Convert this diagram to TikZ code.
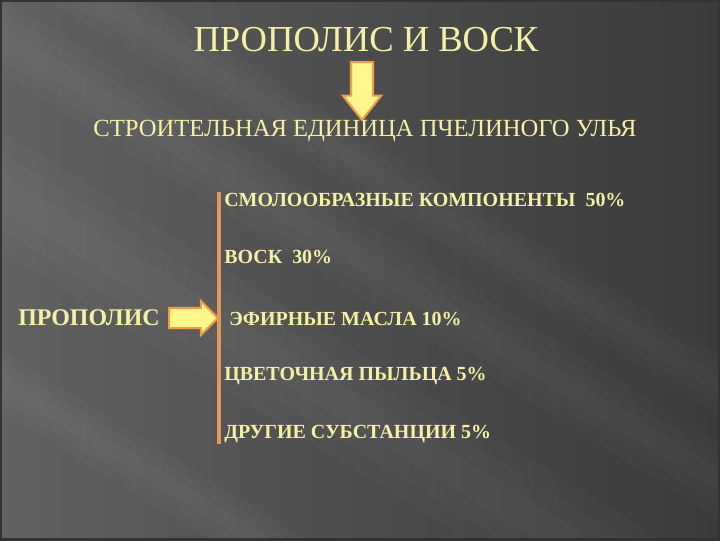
\documentclass[tikz,border=0pt]{standalone}
\usepackage{fontspec}
\setmainfont{Liberation Serif}
\usetikzlibrary{shapes.arrows,fadings}
\definecolor{txtyel}{HTML}{F4F1A6}
\definecolor{arrfill}{HTML}{FFF78C}
\definecolor{arrdraw}{HTML}{EE9E48}
\definecolor{brline}{HTML}{E19A55}
\definecolor{bgdark}{HTML}{454545}
\definecolor{bglight}{HTML}{626262}
\newcommand{\streak}[2]{% diagonal light band, y at x=0 and half width
  \foreach \w in {1,0.65,0.3}
    \fill[white, opacity=0.018] (-50,#1-31-\w*#2) -- (770,#1+477-\w*#2) -- (770,#1+477+\w*#2) -- (-50,#1-31+\w*#2) -- cycle;}
\begin{document}
\begin{tikzpicture}[x=0.025cm, y=-0.025cm,
  item/.style={anchor=west, inner sep=0pt, text=txtyel, font=\fontsize{14.2}{16}\selectfont\bfseries},
  blockarrow/.style={single arrow, draw=arrdraw, fill=arrfill, line width=1.5pt}]
% background
\useasboundingbox (0,0) rectangle (720,540);
\clip (0,0) rectangle (720,540);
\shade[left color=bglight, right color=bgdark] (0,0) rectangle (720,540);
\streak{35}{38}
\streak{190}{60}
\streak{380}{30}
\streak{-60}{30}
\fill[black, opacity=0.15, path fading=west] (0,0) rectangle (720,540);
\draw[black!80, line width=3pt] (0,0) rectangle (720,540);

\node (title) [text=txtyel, font=\fontsize{26}{30}\selectfont] at (366,40) {ПРОПОЛИС И ВОСК};
\node (unit) [text=txtyel, font=\fontsize{17.5}{22}\selectfont] at (365,131) {СТРОИТЕЛЬНАЯ ЕДИНИЦА ПЧЕЛИНОГО УЛЬЯ};
\node (down) [blockarrow, shape border rotate=270, inner sep=0.25cm, minimum height=1.45cm,
  single arrow head extend=0.2cm, single arrow tip angle=76, anchor=tail] at (362,61) {};

\node (i1) [item] at (224,200) {СМОЛООБРАЗНЫЕ КОМПОНЕНТЫ \ 50\%};
\node (i2) [item] at (224,257) {ВОСК \ 30\%};
\node (i3) [item] at (229,319) {ЭФИРНЫЕ МАСЛА 10\%};
\node (i4) [item] at (224,376) {ЦВЕТОЧНАЯ ПЫЛЬЦА 5\%};
\node (i5) [item] at (224,434) {ДРУГИЕ СУБСТАНЦИИ 5\%};

\node (prop) [anchor=west, inner sep=0pt, text=txtyel, font=\fontsize{17}{20}\selectfont\bfseries] at (18,318) {ПРОПОЛИС};
\node (right) [blockarrow, inner sep=0.225cm, minimum height=1.22cm,
  single arrow head extend=0.175cm, single arrow tip angle=90, anchor=tail] at (168,318) {};

\coordinate (brtop) at (219,192);
\coordinate (brbot) at (219,444);
\draw [brline, line width=2.5pt] (brtop) -- (brbot);
\end{tikzpicture}
\end{document}
